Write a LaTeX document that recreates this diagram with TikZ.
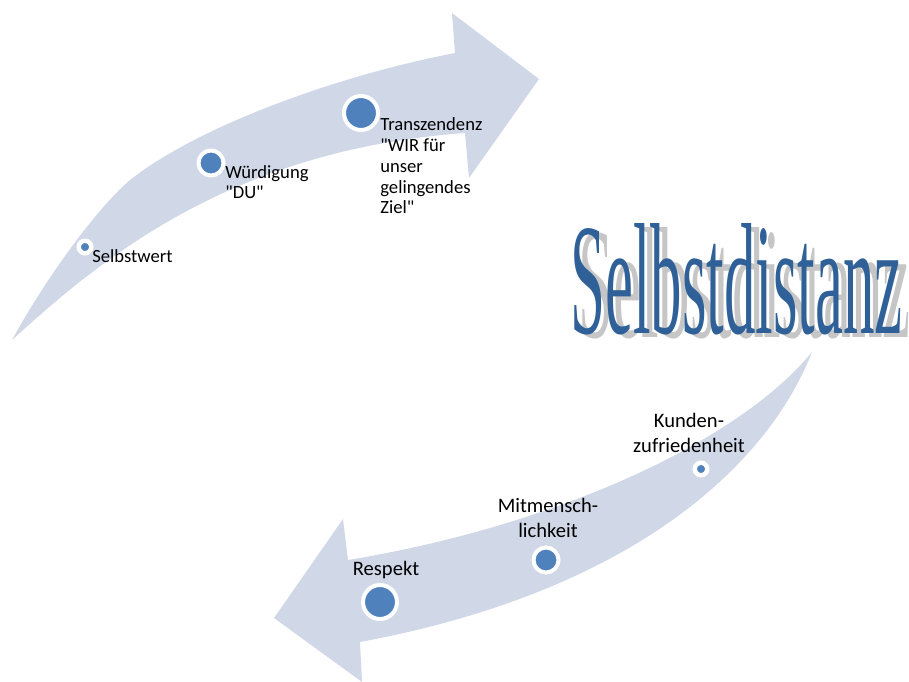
\documentclass[tikz,border=0pt]{standalone}
\usepackage{fontspec}
\setmainfont{Carlito}
\newfontfamily\wordartfont{Liberation Serif}
\usepackage{graphicx}
\usepackage{tikz}
\usetikzlibrary{positioning,calc}
\usepackage{xcolor}
\definecolor{arrowfill}{RGB}{208,216,232}
\definecolor{dotblue}{RGB}{79,129,189}
\definecolor{titleblue}{RGB}{47,97,152}
\newcommand{\titleword}{\resizebox{6.65cm}{2.2cm}{\wordartfont Selbstdistanz}}

\begin{document}
\begin{tikzpicture}[
    x=0.02cm, y=-0.02cm,
    lbl/.style={font=\fontsize{10.6}{11.8}\selectfont, align=left, inner sep=0pt},
    lbllow/.style={font=\fontsize{11.7}{14.2}\selectfont, align=center, inner sep=0pt},
    band/.style={fill=arrowfill, draw=none},
    ringdot/.style={circle, fill=dotblue, draw=white, inner sep=0pt},
    dotsmall/.style={ringdot, minimum size=2.5mm, line width=0.9mm},
    dotmid/.style={ringdot, minimum size=5mm, line width=0.8mm},
    dotbig/.style={ringdot, minimum size=6.8mm, line width=0.8mm}
]
\useasboundingbox (0,0) rectangle (909,682);

% Upper arrow
\fill[band] (12,340) .. controls (45,280) and (95,210) .. (130,180)
    .. controls (200,125) and (340,75) .. (455,53)
    -- (452,13) -- (539,79) -- (469,178) -- (465,133)
    .. controls (230,150) and (100,260) .. (12,340) -- cycle;

% Lower arrow
\fill[band] (812,352) .. controls (770,460) and (640,590) .. (360,642)
    -- (362,682) -- (274,618) -- (343,519) -- (348,560)
    .. controls (560,525) and (740,440) .. (812,352) -- cycle;

% Upper steps
\node[dotsmall] (selbstwert) at (85,247) {};
\node[lbl, anchor=west] (selbstwertlbl) at (92,256) {Selbstwert};

\node[dotmid] (wuerdigung) at (211,163) {};
\node[lbl, anchor=west] (wuerdigunglbl) at (225,182) {Würdigung\\\textquotedbl DU\textquotedbl};

\node[dotbig] (transzendenz) at (361,113) {};
\node[lbl, anchor=west] (transzendenzlbl) at (380,166)
    {Transzendenz\\\textquotedbl WIR für\\unser\\gelingendes\\Ziel\textquotedbl};

% Lower steps
\node[dotsmall] (kunden) at (701,469) {};
\node[lbllow] (kundenlbl) at (689,433) {Kunden-\\zufriedenheit};

\node[dotmid] (mitmensch) at (546,560) {};
\node[lbllow] (mitmenschlbl) at (548,518) {Mitmensch-\\lichkeit};

\node[dotbig] (respekt) at (380,602) {};
\node[lbllow] (respektlbl) at (386,570) {Respekt};

% Title with shadow
\node[anchor=south west, inner sep=0pt, text=gray!45] (titleshadow) at (578,339) {\titleword};
\node[anchor=south west, inner sep=0pt, text=titleblue] (title) at (570,335) {\titleword};
\end{tikzpicture}
\end{document}
